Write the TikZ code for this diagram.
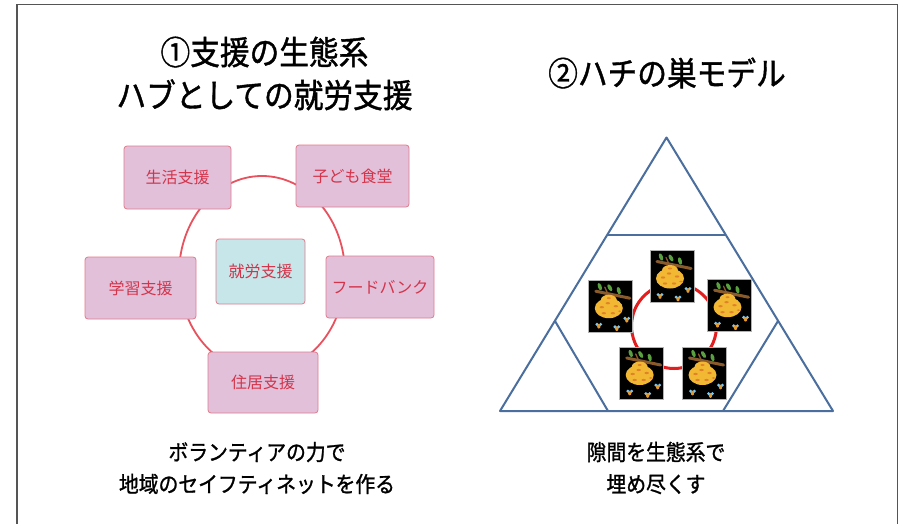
\documentclass[tikz,border=0pt]{standalone}
\usepackage{fontspec}
\setmainfont{Noto Sans CJK JP}
\newfontfamily\jpbold{Noto Sans CJK JP}[FakeBold=1.2, FakeStretch=0.9]
\definecolor{framec}{HTML}{555555}
\definecolor{boxfill}{HTML}{E2C0DA}
\definecolor{boxdraw}{HTML}{E07B8C}
\definecolor{boxtext}{HTML}{D3344A}
\definecolor{hubfill}{HTML}{C6E6E9}
\definecolor{ringred}{HTML}{E8525E}
\definecolor{triblue}{HTML}{4A6E9E}
\definecolor{circred}{HTML}{E21E1E}
\definecolor{branchc}{HTML}{8B5A2B}
\definecolor{leafc}{HTML}{5AA040}
\definecolor{hivec}{HTML}{F2B733}
\definecolor{spotc}{HTML}{E0822A}
\definecolor{wingc}{HTML}{7EC8F0}
\definecolor{beec}{HTML}{E09A30}
\tikzset{
  pbox/.style={draw=boxdraw, fill=boxfill, line width=0.8pt, rounded corners=3pt,
    text=boxtext, font=\fontsize{16}{18}\selectfont, inner sep=0pt},
  hubbox/.style={pbox, fill=hubfill},
  titletext/.style={font=\jpbold\fontsize{33}{43}\selectfont, align=center, text=black},
  captext/.style={font=\jpbold\fontsize{22}{32}\selectfont, align=center, text=black},
  triline/.style={draw=triblue, line width=2pt, line join=round},
  beeimg/.pic={
    \fill[black] (-22,-26) rectangle (22,26);
    \draw[gray!60, line width=0.7pt] (-22,-26) rectangle (22,26);
    \draw[branchc, line width=3pt, line cap=round] (-15,-15) -- (19,-8);
    \draw[branchc, line width=1.3pt, line cap=round] (-3,-12.5) -- (-6,-19);
    \fill[leafc, rotate around={-70:(-11,-19.5)}] (-11,-19.5) ellipse (3.8 and 1.9);
    \fill[leafc, rotate around={-60:(-1,-18.5)}] (-1,-18.5) ellipse (3.8 and 1.9);
    \fill[leafc, rotate around={-75:(8,-15.5)}] (8,-15.5) ellipse (3.8 and 1.9);
    \fill[hivec] (-2,-6) ellipse (8 and 5.5);
    \fill[hivec] (-2,2) ellipse (14 and 10);
    \fill[spotc] (-9,1) ellipse (2.2 and 1.1);
    \fill[spotc] (-3,-3) ellipse (2.2 and 1.1);
    \fill[spotc] (5,0) ellipse (2.2 and 1.1);
    \fill[spotc] (-7,7) ellipse (2.2 and 1.1);
    \fill[spotc] (2,7) ellipse (2.2 and 1.1);
    \fill[spotc] (-2,-8) ellipse (2 and 1);
    \fill[spotc] (9,5) ellipse (1.8 and 0.9);
    \foreach \bx/\by in {-12/20, 6/22.5, 16/14}{
      \fill[wingc] (\bx-1.8,\by-1.8) circle (1.7);
      \fill[wingc] (\bx+1.8,\by-1.8) circle (1.7);
      \fill[beec] (\bx,\by) ellipse (1.7 and 2.4);
    }
  }
}
\begin{document}
\begin{tikzpicture}[x=1pt,y=-1pt]
\useasboundingbox (0,0) rectangle (904,524);
\fill[white] (0,0) rectangle (904,524);
% frame
\draw[framec, line width=1.3pt] (17,524) -- (17,4.3) -- (897.7,4.3) -- (897.7,524);

% titles
\node[titletext] (t1) at (264.5,73.5) {①支援の生態系\\ハブとしての就労支援};
\node[titletext] (t2) at (667,73) {②ハチの巣モデル};

% left diagram
\draw[ringred, line width=1.8pt] (262,274) ellipse (83 and 98);
\node[pbox, minimum width=107pt, minimum height=63pt] (s1) at (177.5,177.5) {生活支援};
\node[pbox, minimum width=113pt, minimum height=62pt] (s2) at (352.5,176) {子ども食堂};
\node[pbox, minimum width=111pt, minimum height=62pt] (s3) at (140.5,288) {学習支援};
\node[pbox, minimum width=108pt, minimum height=62pt] (s4) at (380,287) {フードバンク};
\node[pbox, minimum width=110pt, minimum height=61pt] (s5) at (263,382.5) {住居支援};
\node[hubbox, minimum width=89pt, minimum height=65pt] (hub) at (260.5,271.5) {就労支援};

% right diagram
\coordinate (A) at (666.5,137.5);
\coordinate (BL) at (500,411);
\coordinate (BR) at (833,411);
\coordinate (ta) at (607,235);
\coordinate (tb) at (726,235);
\coordinate (la) at (555,321);
\coordinate (lb) at (608,411);
\coordinate (ra) at (778,321);
\coordinate (rb) at (723,411);
\draw[triline] (A) -- (BL) -- (BR) -- cycle;
\draw[triline] (ta) -- (tb);
\draw[triline] (la) -- (lb);
\draw[triline] (ra) -- (rb);
\draw[circred, line width=3pt] (674,326) circle (42.5);
\pic at (672,276.5) {beeimg};
\pic at (610.8,306.2) {beeimg};
\pic at (729.5,305.2) {beeimg};
\pic at (641.7,373) {beeimg};
\pic at (704.5,373) {beeimg};

% captions
\node[captext] (c1) at (257,468) {ボランティアの力で\\地域のセイフティネットを作る};
\node[captext] (c2) at (656,468) {隙間を生態系で\\埋め尽くす};
\end{tikzpicture}
\end{document}
